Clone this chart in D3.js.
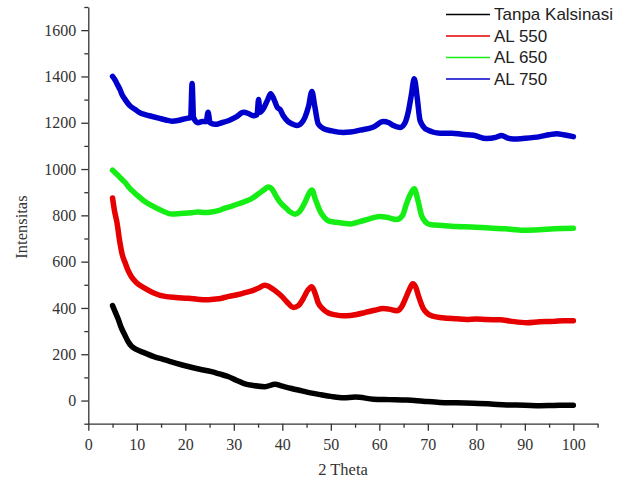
<!DOCTYPE html>
<html>
<head>
<meta charset="utf-8">
<script src="https://cdn.jsdelivr.net/npm/d3@7"></script>
<style>
  body { margin: 0; background: #fff; }
</style>
</head>
<body>
<div id="chart"></div>
<script>
// series: [2 theta, intensity]
var tanpa = [[5,410],[5.5,385],[6.2,350],[6.8,315],[7.6,280],[8.2,255],[8.9,235],[10,220],[11.7,205],
  [13.5,190],[15.8,176],[18,162],[20.6,147],[23,135],[25.4,125],[27,115],[28.8,104],[30.5,88],[32.3,72],
  [34,65],[36.4,60],[38.5,70],[40,62],[41.9,52],[44,42],[46.1,32],[48,25],[50,18],[52.6,12],[55,15],
  [58.8,6],[62,4],[65.7,2],[69,-3],[72.5,-8],[76,-10],[79.4,-12],[83,-15],[86.3,-19],[90,-20],
  [93.1,-22],[96,-21],[100,-20]];

var al550 = [[5,875],[5.4,820],[5.9,770],[6.5,685],[7,630],[7.6,595],[8.2,562],[8.9,535],[10,508],
  [11.7,485],[13.5,465],[15.8,450],[18,445],[20.6,442],[22.5,438],[24.1,435],[26,438],[27.5,442],
  [29,450],[30.9,458],[32.3,466],[33.7,474],[35,485],[36.4,498],[37.3,492],[38.5,475],[39.9,450],
  [41,425],[42.3,402],[43.3,410],[44.3,440],[45.3,478],[46.1,492],[46.8,460],[47.4,422],[48.4,395],
  [49.5,378],[51,370],[52.6,366],[54,367],[55.3,372],[57,380],[59,390],[60.8,398],[62,395],[63.6,388],
  [64.6,405],[65.3,436],[66.2,480],[66.9,505],[67.5,490],[68.1,450],[69,400],[69.8,378],[71,365],
  [73,358],[75.9,353],[78,350],[80,352],[82,350],[84.9,349],[87,343],[90.4,336],[93,340],[96,342],
  [98,345],[100,345]];

var al650 = [[5,995],[5.5,985],[6,975],[6.8,958],[7.6,942],[8.5,918],[9.5,898],[10.3,883],[11.5,862],
  [13.1,842],[15,822],[17.2,806],[19,808],[21.3,811],[22.5,815],[24.1,812],[25.5,815],[26.8,820],
  [28,830],[29.6,840],[31,850],[32.3,860],[33.5,870],[35.1,893],[36.2,910],[37.1,922],[37.8,915],
  [38.8,880],[39.8,850],[40.6,835],[41.6,815],[42.6,805],[43.5,815],[44.7,858],[45.5,895],[46.1,910],
  [46.8,870],[47.8,818],[48.7,790],[49.5,776],[51,770],[52.6,766],[54,763],[56,773],[58,785],
  [60.1,795],[61.5,792],[63.6,782],[64.8,800],[65.6,850],[66.5,895],[67.2,915],[67.9,870],[68.7,800],
  [69.5,772],[70.5,760],[73,756],[75.9,752],[79,750],[82.8,745],[86,742],[89.7,736],[93,738],
  [96,742],[100,744]];

var al750 = [[5,1400],[5.5,1385],[6,1365],[6.5,1345],[7,1320],[7.6,1300],[8.5,1275],[9.6,1258],
  [10.5,1245],[11.7,1235],[13,1228],[14.5,1220],[16,1212],[17.2,1207],[18.5,1210],[19.5,1215],
  [20.6,1220],[21.1,1222],[21.4,1370],[21.7,1222],[22.6,1200],[23.5,1205],[24.3,1205],[24.7,1245],
  [25.1,1200],[26.1,1193],[27.5,1200],[29,1210],[30.5,1225],[32,1245],[33,1240],[34,1230],
  [34.8,1235],[35.1,1300],[35.4,1245],[36.2,1265],[37,1300],[37.6,1325],[38.3,1300],[39,1265],
  [39.5,1258],[40.2,1230],[41.2,1205],[42,1195],[43,1188],[44,1200],[44.7,1225],[45.4,1270],
  [46.1,1335],[46.7,1270],[47.4,1195],[48.5,1175],[50.2,1165],[52.6,1158],[54,1160],[56,1168],
  [58.8,1182],[60.8,1205],[62,1200],[62.9,1188],[64.3,1180],[65.3,1200],[66,1250],[66.6,1320],
  [67.2,1390],[67.8,1310],[68.4,1210],[69.8,1170],[72.5,1155],[75,1155],[77,1150],[79.4,1146],
  [82.1,1132],[84,1137],[85.2,1145],[86.3,1135],[87.6,1130],[90,1133],[93.1,1140],[95,1148],
  [96.6,1153],[98,1148],[100,1140]];

var names = ["Tanpa Kalsinasi", "AL 550", "AL 650", "AL 750"];
var colors = ["#000000", "#e60000", "#14ee14", "#0000cd"];
var xticks = [0, 10, 20, 30, 40, 50, 60, 70, 80, 90, 100];
var yticks = [0, 200, 400, 600, 800, 1000, 1200, 1400, 1600];

var series = [tanpa, al550, al650, al750];

var width = 634, height = 486;

var svg = d3.select("#chart")
    .append("svg")
    .attr("width", width)
    .attr("height", height);

var x = d3.scaleLinear().domain([0, 105]).range([88.3, 597.6]);
var y = d3.scaleLinear().domain([-100, 1700]).range([423.7, 7]);

// minor ticks first, then the major axis on top
svg.append("g")
    .attr("transform", "translate(0," + y(-100) + ")")
    .call(d3.axisBottom(x).tickValues(d3.range(5, 106, 10)).tickSize(4).tickSizeOuter(0).tickFormat(""))
    .call(function(g) { g.select(".domain").remove(); });

svg.append("g")
    .attr("transform", "translate(" + x(0) + ",0)")
    .call(d3.axisLeft(y).tickValues(d3.range(-100, 1701, 200)).tickSize(4).tickSizeOuter(0).tickFormat(""))
    .call(function(g) { g.select(".domain").remove(); });

svg.append("g")
    .attr("transform", "translate(0," + y(-100) + ")")
    .call(d3.axisBottom(x).tickValues(xticks).tickSize(7).tickSizeOuter(0).tickPadding(8).tickFormat(d3.format("d")));

svg.append("g")
    .attr("transform", "translate(" + x(0) + ",0)")
    .call(d3.axisLeft(y).tickValues(yticks).tickSize(7).tickSizeOuter(0).tickPadding(5).tickFormat(d3.format("d")));

svg.selectAll(".tick text")
    .style("font-family", "'Liberation Serif', serif")
    .style("font-size", "16px")
    .attr("fill", "#333");
svg.selectAll(".domain, .tick line")
    .attr("stroke", "#333")
    .attr("stroke-width", 1.3);

// axis titles
svg.append("text")
    .attr("x", 343)
    .attr("y", 475)
    .attr("text-anchor", "middle")
    .style("font-family", "'Liberation Serif', serif")
    .style("font-size", "16.5px")
    .attr("fill", "#333")
    .text("2 Theta");

svg.append("text")
    .attr("transform", "translate(27,227) rotate(-90)")
    .attr("text-anchor", "middle")
    .style("font-family", "'Liberation Serif', serif")
    .style("font-size", "16.5px")
    .attr("fill", "#333")
    .text("Intensitas");

// the diffraction lines
var line = d3.line()
    .x(function(d) { return x(d[0]); })
    .y(function(d) { return y(d[1]); })
    .curve(d3.curveMonotoneX);

svg.append("g")
    .selectAll("path")
    .data(series)
    .enter()
    .append("path")
    .attr("d", line)
    .attr("fill", "none")
    .attr("stroke", function(d, i) { return colors[i]; })
    .attr("stroke-width", 5.5)
    .attr("stroke-linejoin", "round")
    .attr("stroke-linecap", "round");

// legend
var legend = svg.append("g")
    .selectAll("g")
    .data(names)
    .enter()
    .append("g")
    .attr("transform", function(d, i) { return "translate(446," + (14.5 + i * 21.5) + ")"; });

legend.append("line")
    .attr("x1", 0).attr("x2", 44)
    .attr("stroke", function(d, i) { return colors[i]; })
    .attr("stroke-width", 1.5);

legend.append("text")
    .attr("x", 48)
    .attr("dy", "0.35em")
    .style("font-family", "'Liberation Sans', Arial, sans-serif")
    .style("font-size", "17px")
    .attr("fill", "#222")
    .text(function(d) { return d; });
</script>
</body>
</html>
